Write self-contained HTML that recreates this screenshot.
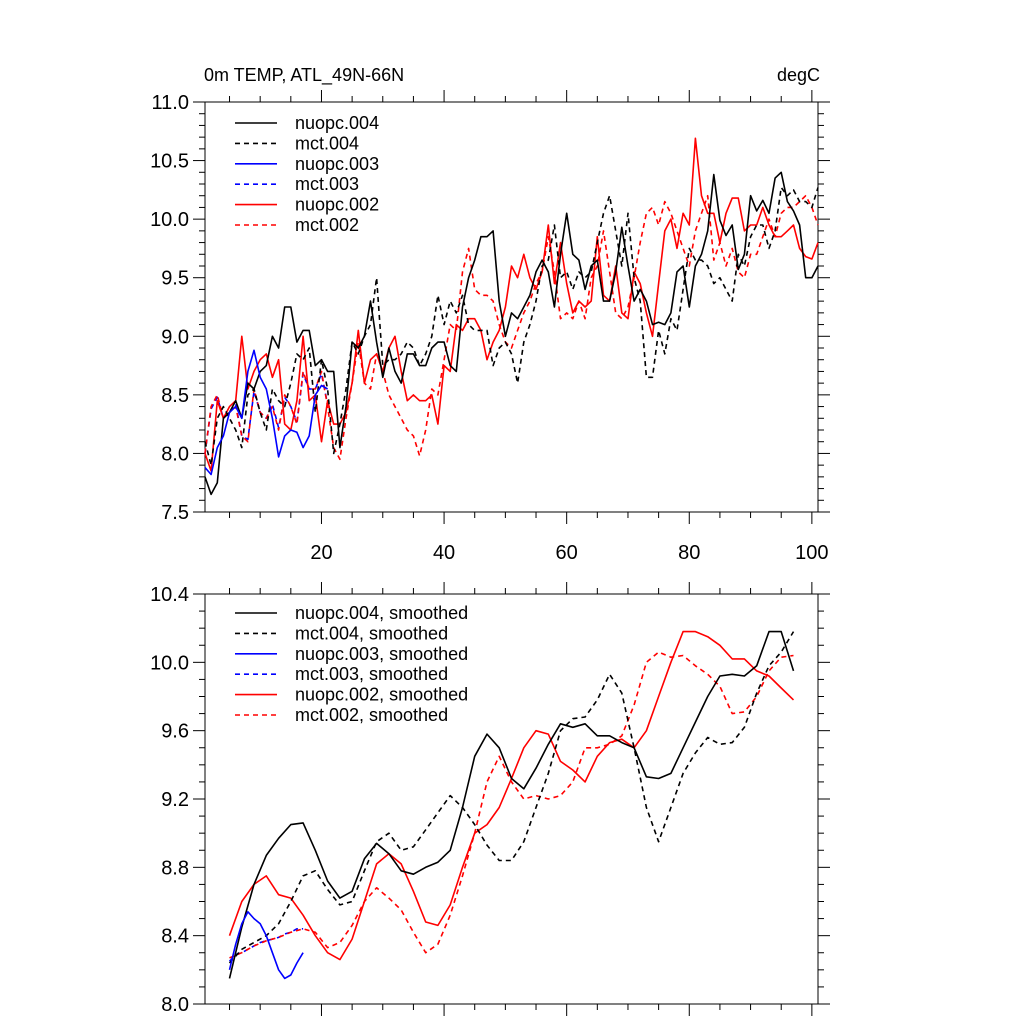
<!DOCTYPE html>
<html><head><meta charset="utf-8"><style>
html,body{margin:0;padding:0;background:#fff;}
svg{display:block;font-family:"Liberation Sans",sans-serif;}
</style></head><body>
<svg id="chart" width="1024" height="1024" viewBox="0 0 1024 1024"></svg>
<script>
// ---------- data ----------
const years = Array.from({length:101},(_,i)=>i+1);
const nuopc004 = [7.8,7.65,7.75,8.3,8.35,8.45,8.3,8.6,8.55,8.7,8.75,9.0,8.9,9.25,9.25,8.95,9.05,9.05,8.75,8.8,8.7,8.7,8.05,8.4,8.95,8.9,9.0,9.3,8.95,8.65,8.9,8.7,8.6,8.85,8.85,8.75,8.75,8.9,8.95,8.95,8.75,8.7,9.25,9.5,9.65,9.85,9.85,9.9,9.3,9.0,9.2,9.15,9.25,9.35,9.55,9.65,9.55,9.25,9.7,10.05,9.7,9.65,9.4,9.6,9.65,9.3,9.3,9.55,9.93,9.6,9.3,9.4,9.3,9.1,9.12,9.1,9.2,9.55,9.6,9.25,9.6,9.7,9.9,10.38,9.99,9.86,9.95,9.57,9.7,10.2,10.07,10.16,10.05,10.35,10.4,10.15,10.07,9.95,9.5,9.5,9.6];
const mct004 = [8.1,7.9,8.3,8.4,8.3,8.2,8.05,8.5,8.55,8.35,8.2,8.55,8.45,8.4,8.6,8.85,8.8,8.9,8.35,8.8,8.55,8.0,8.25,8.55,8.95,8.85,9.0,9.1,9.5,8.75,8.8,8.8,8.85,8.95,8.9,8.75,8.85,9.0,9.35,9.1,9.3,9.2,9.35,9.1,9.05,9.05,9.05,8.75,8.9,8.95,8.85,8.6,8.95,9.1,9.3,9.6,9.65,9.95,9.5,9.55,9.4,9.55,9.5,9.55,9.8,10.05,10.2,9.9,9.6,10.05,9.5,9.3,8.65,8.65,9.05,8.85,9.15,9.05,9.4,9.75,9.65,9.65,9.6,9.45,9.5,9.4,9.3,9.7,9.6,9.85,9.95,9.95,9.75,9.9,10.27,10.2,10.25,10.15,10.15,10.1,10.27];
const years003 = Array.from({length:21},(_,i)=>i+1);
const nuopc003 = [7.88,7.82,8.05,8.15,8.35,8.4,8.3,8.7,8.88,8.65,8.55,8.3,7.97,8.15,8.2,8.18,8.05,8.15,8.5,8.58,8.55];
const mct003 = [8.0,8.38,8.48,8.3,8.35,8.42,8.15,8.12,8.53,8.35,8.3,8.42,8.22,8.48,8.4,8.27,8.68,8.55,8.55,8.68,8.42];
const nuopc002 = [8.0,7.85,8.45,8.3,8.4,8.45,9.0,8.55,8.7,8.8,8.85,8.65,8.8,8.25,8.2,8.45,9.0,8.45,8.5,8.1,8.45,8.25,8.25,8.35,8.6,9.05,8.6,8.8,8.85,8.7,8.9,9.0,8.7,8.45,8.5,8.45,8.45,8.5,8.25,8.75,8.7,9.1,9.05,9.15,9.15,9.05,8.8,8.95,9.05,9.25,9.6,9.5,9.7,9.5,9.4,9.55,9.95,9.45,9.8,9.45,9.2,9.3,9.25,9.3,9.85,9.35,9.3,9.6,9.2,9.15,9.55,9.45,9.2,9.0,9.45,9.9,10.0,9.75,10.05,9.95,10.69,10.2,10.05,10.05,9.8,10.05,10.18,10.18,9.9,9.95,9.95,10.1,9.95,9.85,9.85,9.9,9.95,9.75,9.68,9.66,9.8];
const mct002 = [8.0,8.4,8.5,8.3,8.35,8.4,8.15,8.1,8.55,8.35,8.3,8.4,8.2,8.5,8.4,8.25,8.7,8.55,8.55,8.7,8.4,8.05,7.95,8.3,8.6,8.95,8.6,8.55,8.85,8.7,8.5,8.4,8.3,8.2,8.15,7.98,8.2,8.55,8.5,8.8,9.1,9.05,9.55,9.75,9.4,9.35,9.35,9.3,9.1,8.95,8.9,9.05,9.2,9.3,9.45,9.55,9.85,9.55,9.15,9.2,9.15,9.3,9.15,9.5,9.6,9.9,9.55,9.2,9.15,9.25,9.5,9.8,10.05,10.1,9.95,10.15,10.05,9.9,9.75,9.6,9.9,10.05,10.2,9.65,9.8,9.6,9.75,9.55,9.5,9.7,9.7,9.85,10.0,9.85,10.05,10.1,10.1,10.15,10.2,10.1,9.95];
// smoothed
const smYears = [5,7,9,11,13,15,17,19,21,23,25,27,29,31,33,35,37,39,41,43,45,47,49,51,53,55,57,59,61,63,65,67,69,71,73,75,77,79,81,83,85,87,89,91,93,95,97];
const smNuopc004 = [8.15,8.45,8.7,8.87,8.97,9.05,9.06,8.9,8.72,8.62,8.66,8.85,8.94,8.88,8.78,8.76,8.8,8.83,8.9,9.15,9.45,9.58,9.5,9.32,9.26,9.38,9.52,9.64,9.62,9.64,9.57,9.57,9.53,9.5,9.33,9.32,9.35,9.5,9.65,9.8,9.92,9.93,9.92,9.98,10.18,10.18,9.95];
const smMct004 = [8.24,8.32,8.36,8.4,8.47,8.6,8.75,8.78,8.67,8.58,8.6,8.78,8.95,9.0,8.9,8.92,9.02,9.12,9.22,9.15,9.05,8.93,8.84,8.84,8.95,9.15,9.35,9.6,9.67,9.68,9.78,9.93,9.82,9.5,9.15,8.95,9.15,9.35,9.47,9.56,9.52,9.53,9.62,9.82,9.98,10.06,10.18];
const smYears003 = [5,6,7,8,9,10,11,12,13,14,15,16,17];
const smNuopc003 = [8.2,8.35,8.47,8.54,8.5,8.47,8.4,8.3,8.2,8.15,8.17,8.24,8.3];
const smMct003 = [8.25,8.29,8.3,8.32,8.34,8.36,8.37,8.38,8.39,8.41,8.42,8.44,8.44];
const smNuopc002 = [8.4,8.6,8.7,8.75,8.64,8.62,8.52,8.4,8.3,8.26,8.38,8.6,8.82,8.88,8.82,8.66,8.48,8.46,8.58,8.8,9.0,9.05,9.15,9.32,9.5,9.6,9.58,9.42,9.37,9.3,9.45,9.53,9.55,9.5,9.6,9.8,10.0,10.18,10.18,10.15,10.1,10.02,10.02,9.95,9.92,9.85,9.78];
const smMct002 = [8.27,8.3,8.34,8.37,8.39,8.42,8.44,8.42,8.33,8.36,8.46,8.6,8.68,8.62,8.55,8.42,8.3,8.35,8.52,8.75,9.0,9.3,9.45,9.3,9.2,9.22,9.2,9.22,9.3,9.5,9.5,9.52,9.57,9.75,10.0,10.06,10.03,10.04,9.98,9.93,9.86,9.7,9.71,9.8,9.95,10.03,10.04];
const topYTicks = ["7.5","8.0","8.5","9.0","9.5","10.0","10.5","11.0"];
const botYTicks = ["8.0","8.4","8.8","9.2","9.6","10.0","10.4"];
const xTicks = ["20","40","60","80","100"];

// ---------- helpers ----------
const NS="http://www.w3.org/2000/svg";
const svg=document.getElementById('chart');
function mk(tag,attrs,parent){const e=document.createElementNS(NS,tag);for(const k in attrs)e.setAttribute(k,attrs[k]);(parent||svg).appendChild(e);return e;}
const L=205,R=818;
const xS=v=>L+(v-1)*(R-L)/100;
function panel(name,top,bot,ymin,ymax,ymajor,yminor,yticks,showX){
  const g=mk('g',{});
  
  
  const yS=v=>bot-(v-ymin)*(bot-top)/(ymax-ymin);
  const ax=mk('g',{stroke:'#000','stroke-width':1},g);
  
  
  mk('rect',{x:L,y:top,width:R-L,height:bot-top,fill:'none'},ax);
  const nMin=Math.round((ymax-ymin)/yminor);
  for(let i=0;i<=nMin;i++){
    const v=ymin+i*yminor, y=yS(v);
    const major=Math.abs(((v-ymin)/ymajor)-Math.round((v-ymin)/ymajor))<1e-6;
    const len=major?12:6;
    mk('line',{x1:L-len,y1:y,x2:L,y2:y},ax);
    mk('line',{x1:R,y1:y,x2:R+len,y2:y},ax);
  }
  for(let i=0;i<yticks.length;i++){
    const t=mk('text',{x:L-16,y:yS(+yticks[i])+7,'text-anchor':'end','font-size':20,fill:'#000',stroke:'none'},g);
    
    
    t.textContent=yticks[i];
  }
  for(let v=5;v<=100;v+=5){
    const x=xS(v), major=v%20===0, len=major?12:6;
    mk('line',{x1:x,y1:bot,x2:x,y2:bot+len},ax);
    mk('line',{x1:x,y1:top-len,x2:x,y2:top},ax);
  }
  if(showX){
    for(let i=0;i<xTicks.length;i++){
      const t=mk('text',{x:xS(+xTicks[i]),y:bot+47,'text-anchor':'middle','font-size':20,fill:'#000'},g);
      
      
      t.textContent=xTicks[i];
    }
  }
  return {g,yS};
}
function series(p,xs,ys,color,dashed,name){
  const d=xs.map((x,i)=>(i?'L':'M')+xS(x).toFixed(1)+','+p.yS(ys[i]).toFixed(1)).join(' ');
  const e=mk('path',{d:d,fill:'none',stroke:color,'stroke-width':1.6,'stroke-dasharray':dashed?'5,4':'none','stroke-linejoin':'round'},p.g);
  
  
}
function legend(p,x0,y0,dy,items){
  const lg=mk('g',{},p.g);
  
  
  items.forEach((it,i)=>{
    const y=y0+i*dy;
    const ln=mk('line',{x1:x0,y1:y,x2:x0+42,y2:y,stroke:it[1],'stroke-width':1.6,'stroke-dasharray':it[2]?'5,4':'none'},lg);
    
    
    const t=mk('text',{x:x0+60,y:y+6,'font-size':18,fill:'#000'},lg);
    
    
    t.textContent=it[0];
  });
}

// ---------- top panel ----------
const p1=panel('top-panel',102,512,7.5,11.0,0.5,0.1,topYTicks,true);
series(p1,years003,mct003,'#0000ff',true,'mct003-line');
series(p1,years,mct002,'#ff0000',true,'mct002-line');
series(p1,years,nuopc002,'#ff0000',false,'nuopc002-line');
series(p1,years,mct004,'#000',true,'mct004-line');
series(p1,years,nuopc004,'#000',false,'nuopc004-line');
series(p1,years003,nuopc003,'#0000ff',false,'nuopc003-line');
legend(p1,235,123,20.4,[["nuopc.004","#000",false],["mct.004","#000",true],["nuopc.003","#0000ff",false],["mct.003","#0000ff",true],["nuopc.002","#ff0000",false],["mct.002","#ff0000",true]]);
const t1=mk('text',{x:204,y:81,'font-size':18,fill:'#000'});


t1.textContent='0m TEMP, ATL_49N-66N';
const t2=mk('text',{x:820,y:81,'font-size':18,fill:'#000','text-anchor':'end'});


t2.textContent='degC';

// ---------- bottom panel ----------
const p2=panel('bottom-panel',594,1004,8.0,10.4,0.4,0.1,botYTicks,false);
series(p2,smYears003,smMct003,'#0000ff',true,'mct003-smoothed-line');
series(p2,smYears,smMct002,'#ff0000',true,'mct002-smoothed-line');
series(p2,smYears,smNuopc002,'#ff0000',false,'nuopc002-smoothed-line');
series(p2,smYears,smMct004,'#000',true,'mct004-smoothed-line');
series(p2,smYears,smNuopc004,'#000',false,'nuopc004-smoothed-line');
series(p2,smYears003,smNuopc003,'#0000ff',false,'nuopc003-smoothed-line');
legend(p2,235,613,20.4,[["nuopc.004, smoothed","#000",false],["mct.004, smoothed","#000",true],["nuopc.003, smoothed","#0000ff",false],["mct.003, smoothed","#0000ff",true],["nuopc.002, smoothed","#ff0000",false],["mct.002, smoothed","#ff0000",true]]);
</script>
</body></html>
